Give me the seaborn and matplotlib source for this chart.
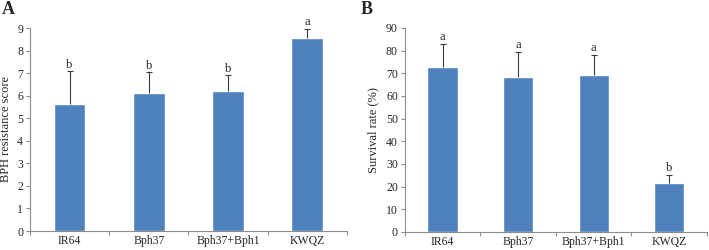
import matplotlib
matplotlib.use("Agg")
import matplotlib.pyplot as plt
import seaborn as sns
import pandas as pd
from matplotlib.ticker import FixedLocator

categories = ["IR64", "Bph37", "Bph37+Bph1", "KWQZ"]
score_mean = [5.62, 6.12, 6.22, 8.56]
score_err = [1.46, 0.92, 0.68, 0.40]
score_letters = ["b", "b", "b", "a"]
surv_mean = [72.6, 68.3, 69.3, 21.5]
surv_err = [10.4, 11.3, 8.9, 3.7]
surv_letters = ["a", "a", "a", "b"]

sns.set_theme(style="white")
plt.rcParams["font.family"] = ["Liberation Serif", "DejaVu Serif"]

fig = plt.figure(figsize=(7.09, 2.5), dpi=100)
axA = fig.add_axes([0.0423, 0.076, 0.447, 0.812])
axB = fig.add_axes([0.571, 0.072, 0.426, 0.816])

blue = "#4F81BD"
axcol = "#8C8C8C"
ecol = "#3a3a3a"

def panel(ax, means, errs, letters, ymax, ystep, ylabel, off, labx):
    df = pd.DataFrame({"cat": categories, "val": means})
    sns.barplot(data=df, x="cat", y="val", ax=ax, color=blue, width=0.4,
                saturation=1, errorbar=None)
    xs = list(range(len(categories)))
    tops = [m + e for m, e in zip(means, errs)]
    ax.vlines(xs, means, tops, colors=ecol, linewidth=0.8, zorder=3)
    ax.plot(xs, tops, linestyle="none", marker="_", markersize=4,
            markeredgewidth=0.8, color=ecol, zorder=3)
    for i, (t, l) in enumerate(zip(tops, letters)):
        ax.text(i, t + off, l, ha="center", va="bottom", fontsize=9)
    ax.set_xlim(-0.5, 3.5)
    ax.set_ylim(0, ymax)
    ax.set_yticks([ystep * k for k in range(int(round(ymax / ystep)) + 1)])
    ax.set_xticks(xs)
    ax.set_xticklabels(categories)
    ax.set_xlabel("")
    ax.set_ylabel(ylabel, fontsize=9)
    ax.yaxis.set_label_coords(labx, 0.5)
    for s in ["top", "right"]:
        ax.spines[s].set_visible(False)
    for s in ["left", "bottom"]:
        ax.spines[s].set_color(axcol)
        ax.spines[s].set_linewidth(0.8)
    ax.tick_params(axis="y", which="major", left=True, length=3, width=0.8,
                   color=axcol, labelsize=8.5, pad=2)
    ax.tick_params(axis="x", which="major", bottom=False, length=0,
                   labelsize=8.5, pad=3)
    ax.xaxis.set_minor_locator(FixedLocator([-0.5, 0.5, 1.5, 2.5, 3.5]))
    ax.tick_params(axis="x", which="minor", bottom=True, length=3, width=0.8,
                   color=axcol)
    for lab in ax.get_xticklabels():
        lab.set_rotation(0)
        lab.set_va("top")

panel(axA, score_mean, score_err, score_letters, 9, 1, "BPH resistance score", 0.02, -0.057)
panel(axB, surv_mean, surv_err, surv_letters, 90, 10, "Survival rate (%)", 0.2, -0.083)

fig.text(0.003, 0.995, "A", fontsize=13, fontweight="bold", va="top", ha="left")
fig.text(0.508, 0.995, "B", fontsize=13, fontweight="bold", va="top", ha="left")

fig.savefig("out.png", dpi=100)
